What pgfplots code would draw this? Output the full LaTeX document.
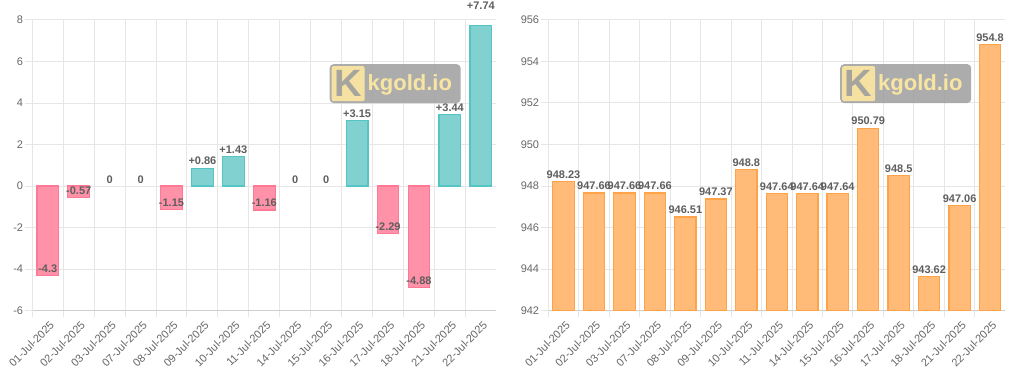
\documentclass[border=0pt]{standalone}
\usepackage{pgfplots}
\pgfplotsset{compat=1.18}
\usepackage{pgfplotstable}
\usepackage{fontspec}
\setmainfont{Liberation Sans}
\definecolor{tickgray}{HTML}{666666}
\definecolor{labgray}{HTML}{5E5E5E}
\definecolor{gridgray}{HTML}{E6E6E6}
\definecolor{axisgray}{HTML}{CFCFCF}
\definecolor{redfill}{RGB}{255,146,169}
\definecolor{redline}{RGB}{255,120,148}
\definecolor{tealfill}{RGB}{129,209,208}
\definecolor{tealline}{RGB}{85,196,196}
\definecolor{orangefill}{RGB}{255,187,119}
\definecolor{orangeline}{RGB}{255,163,72}
\definecolor{wmgray}{HTML}{9E9E9E}
\definecolor{wmyellow}{HTML}{FDE9A2}

\pgfplotstableread{
x y lab
0 -4.3 -4.3
1 -0.57 -0.57
4 -1.15 -1.15
7 -1.16 -1.16
11 -2.29 -2.29
12 -4.88 -4.88
}\negdata
\pgfplotstableread{
x y lab
5 0.86 +0.86
6 1.43 +1.43
10 3.15 +3.15
13 3.44 +3.44
}\posdata
\pgfplotstableread{
x y lab
14 7.74 +7.74
}\topdata
\pgfplotstableread{
x y lab
2 0 0
3 0 0
8 0 0
9 0 0
}\zerodata
\pgfplotstableread{
x y lab
0 948.23 948.23
1 947.66 947.66
2 947.66 947.66
3 947.66 947.66
4 946.51 946.51
5 947.37 947.37
6 948.8 948.8
7 947.64 947.64
8 947.64 947.64
9 947.64 947.64
10 950.79 950.79
11 948.5 948.5
12 943.62 943.62
13 947.06 947.06
14 954.8 954.8
}\pricedata

\pgfplotsset{
  kg/.style={
    scale only axis, height=290.5pt,
    anchor=north west,
    xmin=-0.5, xmax=14.5,
    xtick={0,...,14},
    xticklabels={01-Jul-2025,02-Jul-2025,03-Jul-2025,07-Jul-2025,08-Jul-2025,09-Jul-2025,10-Jul-2025,11-Jul-2025,14-Jul-2025,15-Jul-2025,16-Jul-2025,17-Jul-2025,18-Jul-2025,21-Jul-2025,22-Jul-2025},
    major x tick style={draw=none},
    minor xtick={-0.5,0.5,...,13.5},
    minor x tick style={draw=gridgray, line width=1pt},
    minor tick length=6pt,
    major tick length=7pt,
    tick align=outside,
    xtick pos=bottom, ytick pos=left,
    xminorgrids, minor x grid style={draw=gridgray, line width=1pt},
    ymajorgrids, major y grid style={draw=gridgray, line width=1pt},
    y tick style={draw=gridgray, line width=1pt},
    axis x line*=bottom, axis y line*=left,
    x axis line style={draw=axisgray, line width=1pt, -},
    y axis line style={draw=gridgray, line width=1pt, -},
    xticklabel style={rotate=45, anchor=north east, font=\fontsize{11}{13}\selectfont, text=tickgray, inner sep=1pt, yshift=-2pt},
    yticklabel style={font=\fontsize{11}{13}\selectfont, text=tickgray, inner sep=2pt},
    /pgf/number format/assume math mode=true,
    ybar, bar width=0.7, bar shift=0pt,
    nodes near coords, point meta=explicit symbolic,
    nodes near coords align={above},
    every node near coord/.append style={font=\bfseries\fontsize{11}{13}\selectfont, text=labgray, inner sep=1pt, yshift=1.5pt},
    clip=true,
  },
}

\newcommand{\watermark}{%
  \node[fill=wmgray, fill opacity=0.85, rounded corners=4pt, minimum width=131pt, minimum height=39pt, inner sep=0pt] (wm) at (rel axis cs:0.782,0.781) {};
  \node[fill=wmyellow, fill opacity=0.9, text opacity=0.9, rounded corners=2pt, minimum width=33pt, minimum height=35pt, inner sep=0pt, anchor=west, text=wmgray, font=\bfseries\fontsize{38}{38}\selectfont] at ([xshift=2pt]wm.west) {K};
  \node[anchor=west, text=wmyellow, text opacity=0.95, inner sep=0pt, font=\bfseries\fontsize{22}{22}\selectfont] at ([xshift=38pt,yshift=-1pt]wm.west) {kgold.io};
}

\begin{document}
\begin{tikzpicture}[x=1pt,y=1pt]
\useasboundingbox (0,0) rectangle (1024,370);
\begin{axis}[kg, at={(32.3pt,350pt)}, width=464pt,
  ymin=-6, ymax=8, ytick={-6,-4,...,8},
  extra y ticks={0}, extra y tick labels={},
  extra y tick style={grid=major, major grid style={draw=axisgray, line width=1pt}}]
\addplot[fill=redfill, draw=redline, line width=1.2pt] table[x=x, y=y, meta=lab] {\negdata};
\addplot[fill=tealfill, draw=tealline, line width=1.2pt] table[x=x, y=y, meta=lab] {\posdata};
\addplot[fill=tealfill, draw=tealline, line width=1.2pt,
  every node near coord/.append style={yshift=13pt}] table[x=x, y=y, meta=lab] {\topdata};
\addplot[fill=none, draw=none] table[x=x, y=y, meta=lab] {\zerodata};
\watermark
\end{axis}
\begin{axis}[kg, at={(548.3pt,350pt)}, width=457pt,
  ymin=942, ymax=956, ytick={942,944,...,956}]
\addplot[fill=orangefill, draw=orangeline, line width=1.2pt] table[x=x, y=y, meta=lab] {\pricedata};
\watermark
\end{axis}
\end{tikzpicture}
\end{document}
